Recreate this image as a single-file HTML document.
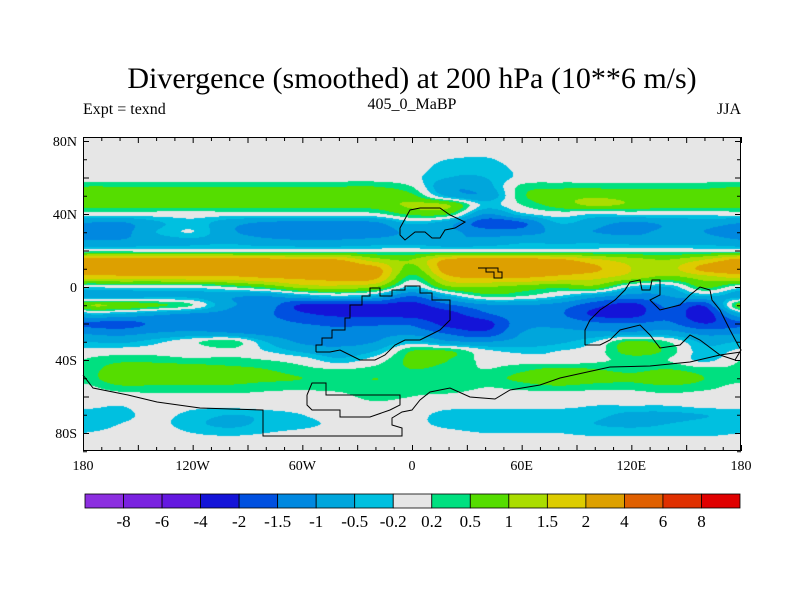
<!DOCTYPE html>
<html><head><meta charset="utf-8">
<style>
body{margin:0;background:#fff;}
#wrap{position:relative;width:800px;height:600px;overflow:hidden;font-family:"Liberation Serif",serif;color:#000;}
.t{position:absolute;white-space:nowrap;}
</style></head>
<body>
<div id="wrap">
<div class="t" style="left:0;width:824px;text-align:center;top:62px;font-size:30px;">Divergence (smoothed) at 200 hPa (10**6 m/s)</div>
<div class="t" style="left:83px;top:101px;font-size:16px;">Expt = texnd</div>
<div class="t" style="left:312px;width:200px;text-align:center;top:96px;font-size:16px;">405_0_MaBP</div>
<div class="t" style="right:59px;top:101px;font-size:16px;">JJA</div>
<canvas id="map" width="658" height="314" style="position:absolute;left:83px;top:137px;"></canvas>
<svg id="ov" width="800" height="600" style="position:absolute;left:0;top:0;"></svg>
</div>
<script>
const lons=[-180,-160,-140,-120,-100,-80,-60,-40,-20,0,20,40,60,80,100,120,140,160];
const lats=[85,80,75,70,65,60,55,50,45,40,35,30,25,20,15,10,5,0,-5,-10,-15,-20,-25,-30,-35,-40,-45,-50,-55,-60,-65,-70,-75,-80,-85,-90];
const field=[
[0,0,0,0,0,0,0,0,0,0,0,0,0,0,0,0,0,0],
[0,0,0,0,0,0,0,0,0,0,0,0,0,0,0,0,0,0],
[0,0,0,0,0,0,0,0,0,0,0,0,0,0,0,0,0,0],
[0,0,0,0,0,0,0,0,0,0,-0.2,-0.25,0,0,0,0,0,0],
[0,0,0,0,0,0,0,0,0,0,-0.4,-0.4,-0.1,0,0,0,0,0],
[0,0,0,0,0,0,0,0,0,-0.1,-0.5,-0.5,-0.1,0,0,0,0,0],
[0.5,0.5,0.5,0.5,0.5,0.5,0.5,0.5,0.5,0.2,-0.9,-0.7,0.3,0.4,0.4,0.4,0.4,0.4],
[0.8,0.8,0.8,0.8,0.8,0.8,0.8,0.8,0.8,0.6,-0.6,-0.9,0.4,0.8,0.9,0.8,0.8,0.8],
[0.7,0.7,0.7,0.7,0.7,0.7,0.7,0.7,0.7,1.1,1.0,-0.3,0.2,0.7,1.1,0.9,0.7,0.7],
[0,0,0,0,0,0,0,0,0.1,0.6,0.5,-1.0,-0.3,0,-0.2,-0.1,-0.1,-0.1],
[-1.0,-1.1,-0.6,-0.3,-0.8,-1.1,-1.2,-1.2,-1.1,-0.4,-0.8,-1.8,-1.6,-0.5,-0.8,-1.1,-0.9,-0.8],
[-1.2,-1.2,-0.5,-0.2,-0.9,-1.2,-1.3,-1.2,-1.2,-0.9,-0.9,-1.2,-1.2,-0.9,-1.0,-1.1,-0.9,-1.0],
[-0.9,-0.9,-0.7,-0.6,-0.6,-0.8,-0.9,-0.9,-0.8,-0.7,-0.9,-0.8,-0.6,-0.6,-0.6,-0.7,-0.7,-0.7],
[0,0,0,0,0,0,0,0,0,0,0,0,0,0,0,0,0,0],
[2.2,2.3,2.3,2.4,2.3,2.2,2.1,2.0,1.2,1.0,2.1,2.2,2.2,2.1,1.6,1.2,1.0,1.5],
[2.4,2.5,2.5,2.5,2.5,2.5,2.4,2.4,2.2,0.8,2.4,2.5,2.4,2.3,2.1,1.5,1.3,2.2],
[1.6,1.7,1.7,1.8,1.8,2.0,2.1,2.2,2.1,0.3,1.8,2.0,2.0,1.8,1.6,1.2,0.8,1.2],
[-0.1,-0.1,-0.1,-0.1,0.2,0.6,1.2,1.3,1.0,-0.3,0.9,1.0,0.8,0.6,0.8,-0.3,-0.5,0.6],
[-0.7,-0.7,-0.6,-0.6,-0.9,-1.0,-0.6,-0.3,-0.6,-1.5,-0.5,0.3,0.2,-0.2,-0.8,-1.2,-1.0,-0.5],
[0.8,0.9,0.6,0.2,-0.9,-1.2,-2.1,-2.2,-2.1,-2.2,-1.6,-1.1,-1.0,-1.2,-1.8,-2.2,-1.4,-1.9],
[-0.6,-0.6,-0.9,-1.1,-1.2,-1.4,-1.9,-2.1,-2.1,-2.2,-2.2,-1.6,-1.2,-1.4,-2.1,-2.2,-1.6,-2.3],
[-1.6,-1.7,-1.4,-1.2,-1.2,-1.3,-1.5,-1.6,-1.6,-1.6,-2.2,-2.2,-1.2,-1.1,-1.4,-1.5,-1.4,-2.0],
[-1.1,-1.2,-1.0,-0.9,-1.0,-1.2,-1.3,-1.4,-1.2,-1.2,-1.6,-1.9,-1.0,-0.9,-0.9,-0.9,-0.8,-1.2],
[-0.5,-0.6,-0.3,0.1,0.4,-0.5,-1.1,-1.2,-1.0,-0.4,-0.9,-1.0,-0.8,-0.6,-0.2,0.6,0.2,-0.6],
[-0.1,0,0,-0.1,0.1,-0.2,-0.6,-0.8,-0.5,0.5,0.5,-0.1,-0.3,-0.2,0,0.7,0.4,-0.4],
[0.2,0.4,0.4,0.3,0.3,0.2,0,-0.4,0,0.6,0.5,0.1,0,-0.1,0.1,0.3,0.2,-0.3],
[0.3,0.7,0.7,0.7,0.6,0.5,0.3,0.2,0.3,0.5,0.4,0.2,0.4,0.6,0.5,0.4,0.5,0.3],
[0.3,0.8,0.8,0.7,0.7,0.6,0.5,0.4,0.5,0.4,0.5,0.4,0.6,0.9,0.7,0.6,0.8,0.5],
[0.1,0.4,0.4,0.4,0.4,0.3,0.3,0.3,0.4,0.3,0.4,0.2,0.3,0.4,0.3,0.3,0.4,0.3],
[-0.1,0,0.1,0.1,0.1,0.1,0,0.1,0.3,0.2,0.1,0,0,0,0,0,0.1,0],
[-0.1,-0.2,0,-0.1,-0.1,0,0,0,0.1,0,-0.1,-0.1,-0.1,-0.1,-0.2,-0.2,-0.2,-0.1],
[-0.4,-0.3,-0.1,-0.3,-0.5,-0.4,-0.2,0,0,-0.1,-0.3,-0.4,-0.4,-0.4,-0.4,-0.6,-0.6,-0.5],
[-0.4,-0.2,-0.1,-0.4,-0.6,-0.4,-0.3,-0.1,0,-0.1,-0.3,-0.4,-0.4,-0.4,-0.5,-0.6,-0.5,-0.4],
[-0.2,-0.1,0,-0.2,-0.3,-0.2,-0.1,0,0,0,-0.1,-0.2,-0.2,-0.2,-0.3,-0.3,-0.3,-0.3],
[0,0,0,0,0,0,0,0,0,0,0,0,0,0,0,0,0,0],
[0,0,0,0,0,0,0,0,0,0,0,0,0,0,0,0,0,0]
];
const levels=[-8,-6,-4,-2,-1.5,-1,-0.5,-0.2,0.2,0.5,1,1.5,2,4,6,8];
const levelLabels=["-8","-6","-4","-2","-1.5","-1","-0.5","-0.2","0.2","0.5","1","1.5","2","4","6","8"];
const colors=["#8c2ee0","#7a22e0","#6418e0","#1414d8","#0050e0","#0088e0","#00a6dc","#00c0e0","#e6e6e6","#00e080","#55dd00","#aadd00","#ddcc00","#dda000","#e06000","#e03000","#e00000"];
const yTickLabels=["80N","40N","0","40S","80S"];
const yTickVals=[80,40,0,-40,-80];
const xTickLabels=["180","120W","60W","0","60E","120E","180"];
const xTickVals=[-180,-120,-60,0,60,120,180];

const X0=83,X1=741,Y0=137,Y1=451;
const xs=lon=>X0+(lon+180)/360*(X1-X0);
const ys=lat=>287-lat*1.825;

function cr(p0,p1,p2,p3,t){return 0.5*((2*p1)+(-p0+p2)*t+(2*p0-5*p1+4*p2-p3)*t*t+(-p0+3*p1-3*p2+p3)*t*t*t);}
function rowVal(r,lon){
  const n=lons.length; let f=(lon+180)/20; let i=Math.floor(f); const t=f-i;
  const g=k=>field[r][((k%n)+n)%n];
  return cr(g(i-1),g(i),g(i+1),g(i+2),t);
}
function val(lon,lat){
  let f=(lats[0]-lat)/5; let i=Math.floor(f); const t=f-i; const m=lats.length;
  const c=k=>rowVal(Math.max(0,Math.min(m-1,k)),lon);
  return cr(c(i-1),c(i),c(i+1),c(i+2),t);
}
function colorOf(v){let k=0;while(k<levels.length&&v>=levels[k])k++;return colors[k];}
function hex(c){return [parseInt(c.substr(1,2),16),parseInt(c.substr(3,2),16),parseInt(c.substr(5,2),16)];}
const cv=document.getElementById('map'),ctx=cv.getContext('2d');
const W=cv.width,H=cv.height,img=ctx.createImageData(W,H);
for(let py=0;py<H;py++){const lat=(287-(Y0+py+0.5))/1.825;
  for(let px=0;px<W;px++){const lon=(px+0.5)/W*360-180;
    const c=hex(colorOf(val(lon,lat)));const o=(py*W+px)*4;
    img.data[o]=c[0];img.data[o+1]=c[1];img.data[o+2]=c[2];img.data[o+3]=255;}}
ctx.putImageData(img,0,0);

const svg=document.getElementById('ov'),NS="http://www.w3.org/2000/svg";
function mk(tag,attrs,parent){const e=document.createElementNS(NS,tag);for(const k in attrs)e.setAttribute(k,attrs[k]);(parent||svg).appendChild(e);return e;}
const coasts=[
"83,375 93,388 128,395 157,402 200,408 263,410 263,436 402,436 402,428 392,425 392,418 402,412 412,410 420,400 430,392 450,388 470,397 495,399 510,390 540,385 560,378 610,367 650,366 690,362 720,355 741,352",
"307,395 312,383 326,383 326,395 380,395 400,395 400,405 390,410 370,417 340,417 340,410 312,410 307,405 307,395",
"316,352 316,345 322,345 322,338 332,338 332,330 345,330 345,318 350,318 350,305 362,305 362,296 370,296 370,288 380,288 380,296 392,296 392,290 405,290 405,286 420,286 420,293 432,293 432,300 450,300 450,320 440,330 430,335 420,340 405,340 395,345 385,355 375,360 360,360 350,355 340,350 330,352 316,352",
"585,345 585,330 590,320 600,310 615,300 625,290 630,282 640,280 642,290 650,290 652,280 660,280 660,295 650,300 660,310 680,305 690,295 700,287 710,290 712,300 720,310 730,330 738,345 741,350 735,360 720,355 700,340 690,335 680,345 660,348 650,335 640,325 620,330 610,340 600,345 585,345",
"400,228 410,210 420,208 440,208 450,215 465,222 455,228 445,230 440,238 432,238 425,232 415,232 405,240 400,235 400,228",
"478,268 498,268 498,272 502,272 502,278 494,278 494,272 486,272 486,268"
];
coasts.forEach((p,i)=>{const e=mk('polyline',{points:p,fill:'none',stroke:'#000','stroke-width':1});

});
const fr=mk('rect',{x:X0+0.5,y:Y0+0.5,width:X1-X0-1,height:Y1-Y0-1,fill:'none',stroke:'#000','stroke-width':1});


for(let lon=-180;lon<=180;lon+=10){const x=xs(lon)+0.5,len=(lon%30===0)?6:4;
  mk('line',{x1:x,y1:Y1,x2:x,y2:Y1-len,stroke:'#000'});mk('line',{x1:x,y1:Y0,x2:x,y2:Y0+len,stroke:'#000'});}
for(let lat=-90;lat<=80;lat+=10){const y=ys(lat)+0.5,len=(lat%20===0)?6:4;
  mk('line',{x1:X0,y1:y,x2:X0+len,y2:y,stroke:'#000'});mk('line',{x1:X1,y1:y,x2:X1-len,y2:y,stroke:'#000'});}
yTickVals.forEach((v,i)=>{const t=mk('text',{x:X0-6,y:ys(v)+5,'text-anchor':'end','font-size':14,'font-family':'Liberation Serif, serif'});t.textContent=yTickLabels[i];

});
xTickVals.forEach((v,i)=>{const t=mk('text',{x:xs(v),y:470,'text-anchor':'middle','font-size':14,'font-family':'Liberation Serif, serif'});t.textContent=xTickLabels[i];

});
const CB0=85,CB1=740,CBy=494,CBh=14,bw=(CB1-CB0)/colors.length;
colors.forEach((c,i)=>{const r=mk('rect',{x:CB0+i*bw,y:CBy,width:bw,height:CBh,fill:c,stroke:'#000','stroke-width':0.8});

});
levelLabels.forEach((l,i)=>{const t=mk('text',{x:CB0+(i+1)*bw,y:527,'text-anchor':'middle','font-size':17,'font-family':'Liberation Serif, serif'});t.textContent=l;

});
</script>
</body></html>
